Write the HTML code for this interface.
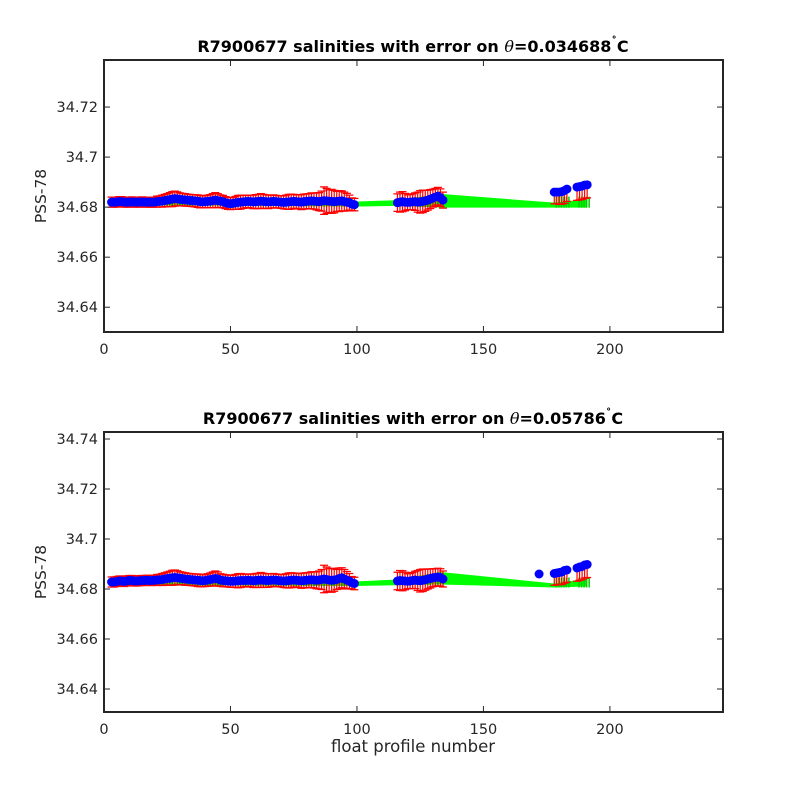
<!DOCTYPE html>
<html><head><meta charset="utf-8"><style>
body{margin:0;background:#fff}
svg{display:block;font-family:"DejaVu Sans","Liberation Sans",sans-serif}
</style></head><body>
<svg id="c" width="800" height="800"></svg>
<script>
const profiles1 = [3,4,5,6,7,8,9,10,11,12,13,14,15,16,17,18,19,20,21,22,23,24,25,26,27,28,29,30,31,32,33,34,35,36,37,38,39,40,41,42,43,44,45,46,47,48,49,50,51,52,53,54,55,56,57,58,59,60,61,62,63,64,65,66,67,68,69,70,71,72,73,74,75,76,77,78,79,80,81,82,83,84,85,86,87,88,89,90,91,92,93,94,95,96,97,98,99,116,117,118,119,120,121,122,123,124,125,126,127,128,129,130,131,132,133,134,178,179,180,181,182,183,187,188,189,190,191];
const sal1 = [34.682,34.682,34.682,34.6822,34.6822,34.682,34.682,34.682,34.6821,34.682,34.682,34.682,34.6821,34.682,34.682,34.682,34.682,34.682,
34.6822,34.6823,34.6824,34.6826,34.6828,34.683,34.6832,34.6834,34.6833,34.6831,34.683,34.6829,34.6828,34.6827,34.6826,
34.6825,34.6824,34.6822,34.6821,34.6822,34.6823,34.6824,34.6826,34.6828,34.6826,34.6824,34.6822,34.6818,34.6815,34.6814,
34.6815,34.6817,34.6819,34.682,34.6821,34.6822,34.6823,34.6822,34.6821,34.6822,34.6823,34.6824,34.6823,34.6822,34.6821,
34.6822,34.6823,34.6822,34.6821,34.682,34.6819,34.682,34.6821,34.6822,34.6823,34.6822,34.6821,34.682,34.6822,34.6823,
34.6824,34.6825,34.6824,34.6823,34.6822,34.6824,34.6826,34.6825,34.6824,34.6823,34.6822,34.6823,34.6824,34.6825,34.6822,34.682,34.6818,34.6812,34.681,
34.6818,34.682,34.6822,34.682,34.6819,34.682,34.6821,34.6822,34.682,34.6821,34.6823,34.6825,34.6828,34.6832,34.6836,34.684,34.6844,34.6838,34.6828,
34.686,34.686,34.686,34.6862,34.6866,34.6872,34.688,34.6882,34.6884,34.6888,34.6889];
const err1 = [0.002,0.002,0.002,0.002,0.002,0.002,0.002,0.002,0.002,0.002,0.002,0.002,0.002,0.002,0.002,0.002,0.002,0.002,
0.0022,0.0022,0.0024,0.0025,0.0026,0.0028,0.003,0.003,0.0028,0.0026,0.0025,0.0025,0.0024,0.0024,0.0024,
0.0024,0.0025,0.0025,0.0024,0.0024,0.0025,0.0026,0.0028,0.003,0.0028,0.0025,0.0025,0.0024,0.0024,0.0024,
0.0024,0.0026,0.0028,0.0028,0.0026,0.0025,0.0025,0.0026,0.0027,0.0028,0.0028,0.003,0.0028,0.0027,0.0027,
0.0026,0.0026,0.0025,0.0025,0.0025,0.0026,0.0028,0.003,0.003,0.0028,0.0027,0.0028,0.003,0.003,0.003,
0.003,0.0032,0.0032,0.0034,0.0036,0.004,0.0055,0.005,0.0045,0.0048,0.0045,0.004,0.0042,0.004,0.0038,0.0035,0.003,0.0025,0.0025,
0.0035,0.004,0.004,0.0035,0.003,0.003,0.0032,0.0035,0.004,0.0045,0.0045,0.0042,0.004,0.0038,0.0036,0.0035,0.0035,0.0035,0.0032,
0.0022,0.0022,0.0024,0.0025,0.0026,0.0024,0.0028,0.0028,0.0028,0.0028,0.0027];
const bandX1 = [3,50,99,116,133,178,191];
const bandLo1 = [34.6806,34.6806,34.6802,34.6805,34.6798,34.6798,34.6798];
const bandHi1 = [34.6818,34.682,34.6822,34.6828,34.6853,34.6818,34.6832];

const profiles2 = profiles1.concat([172]);
const sal2 = [34.6828,34.6828,34.683,34.6832,34.6832,34.683,34.6832,34.6834,34.6834,34.6832,34.6832,34.6833,34.6834,34.6834,34.6835,34.6834,34.6834,34.6835,
34.6836,34.6837,34.6838,34.684,34.6842,34.6843,34.6845,34.6846,34.6845,34.6843,34.6842,34.684,34.6839,34.6838,34.6837,
34.6836,34.6835,34.6834,34.6833,34.6834,34.6836,34.6838,34.684,34.6842,34.684,34.6836,34.6834,34.6833,34.6832,34.6831,
34.6831,34.6832,34.6833,34.6834,34.6834,34.6834,34.6835,34.6834,34.6833,34.6834,34.6835,34.6836,34.6835,34.6834,34.6834,
34.6835,34.6836,34.6835,34.6834,34.6833,34.6832,34.6833,34.6834,34.6835,34.6836,34.6835,34.6834,34.6833,34.6834,34.6835,
34.6836,34.6837,34.6836,34.6835,34.6836,34.6838,34.684,34.6838,34.6836,34.6835,34.6836,34.6838,34.6842,34.6845,34.684,34.6835,34.6832,34.6825,34.6822,
34.6832,34.6834,34.6833,34.6832,34.6831,34.6832,34.6834,34.6836,34.6834,34.6833,34.6835,34.6837,34.684,34.6842,34.6845,34.6846,34.6848,34.6846,34.684,
34.6862,34.6864,34.6866,34.6868,34.6874,34.6876,34.6884,34.6888,34.689,34.6896,34.6898,34.686];
const err2 = err1.concat([0]);
const bandX2 = [3,50,99,116,133,178,191];
const bandLo2 = [34.6812,34.6814,34.6812,34.6815,34.6818,34.6806,34.681];
const bandHi2 = [34.6826,34.6828,34.683,34.6838,34.6868,34.6822,34.6842];

const xTicks = [0,50,100,150,200];
const yTicks1 = [34.64,34.66,34.68,34.7,34.72];
const yLabels1 = ["34.64","34.66","34.68","34.7","34.72"];
const yTicks2 = [34.64,34.66,34.68,34.7,34.72,34.74];
const yLabels2 = ["34.64","34.66","34.68","34.7","34.72","34.74"];

const NS="http://www.w3.org/2000/svg";
const svg=document.getElementById('c');
function mk(tag,attrs,parent){const e=document.createElementNS(NS,tag);for(const k in attrs)e.setAttribute(k,attrs[k]);(parent||svg).appendChild(e);return e;}

function panel(cfg){
  const L=104,R=723,T=cfg.top,B=cfg.bottom;
  const xs=v=>L+(v-0)/(244.7-0)*(R-L);
  const ys=v=>B-(v-cfg.ymin)/(cfg.ymax-cfg.ymin)*(B-T);
  const g=mk('g',{});
  
  
  let d='';
  for(let i=0;i<cfg.bx.length;i++)d+=(i?'L':'M')+xs(cfg.bx[i])+','+ys(cfg.bhi[i]);
  for(let i=cfg.bx.length-1;i>=0;i--)d+='L'+xs(cfg.bx[i])+','+ys(cfg.blo[i]);
  const band=mk('path',{d:d+'Z',fill:'#00ff00'},g);
  
  
  for(let i=0;i<cfg.px.length;i++){
    if(cfg.px[i]<175)continue;
    const gl=mk('line',{x1:xs(cfg.px[i])+2,x2:xs(cfg.px[i])+2,y1:ys(cfg.blo[5]),y2:ys(cfg.bhi[5])-6,stroke:'#00cc00','stroke-width':1.5},g);
    
    
  }
  for(let i=0;i<cfg.px.length;i++){
    if(!cfg.e[i])continue;
    const lowExtra = cfg.px[i]>175 ? 0.0025 : 0;
    const x=xs(cfg.px[i]),y1=ys(cfg.s[i]-cfg.e[i]-lowExtra),y2=ys(cfg.s[i]+cfg.e[i]*(cfg.px[i]>175?0.3:1));
    const eb=mk('path',{d:`M${x},${y1}L${x},${y2}M${x-4},${y1}L${x+4},${y1}M${x-4},${y2}L${x+4},${y2}`,stroke:'#ff0000','stroke-width':1.2,fill:'none'},g);
    
    
  }
  for(let i=0;i<cfg.px.length;i++){
    const c=mk('circle',{cx:xs(cfg.px[i]),cy:ys(cfg.s[i]),r:4.5,fill:'#0000ff'},g);
    
    
  }
  const box=mk('rect',{x:L,y:T,width:R-L,height:B-T,fill:'none',stroke:'#262626','stroke-width':2},g);
  
  
  xTicks.forEach(v=>{
    const x=xs(v);
    mk('line',{x1:x,x2:x,y1:B,y2:B-6,stroke:'#262626','stroke-width':1},g);
    mk('line',{x1:x,x2:x,y1:T,y2:T+6,stroke:'#262626','stroke-width':1},g);
    const t=mk('text',{x:x,y:B+22,'text-anchor':'middle','font-size':14.5,fill:'#262626'},g);
    t.textContent=v;
    
    
  });
  cfg.yt.forEach((v,i)=>{
    const y=ys(v);
    mk('line',{x1:L,x2:L+6,y1:y,y2:y,stroke:'#262626','stroke-width':1},g);
    mk('line',{x1:R,x2:R-6,y1:y,y2:y,stroke:'#262626','stroke-width':1},g);
    const t=mk('text',{x:L-6,y:y+5,'text-anchor':'end','font-size':14.5,fill:'#262626'},g);
    t.textContent=cfg.yl[i];
    
    
  });
  const yl=mk('text',{x:0,y:0,transform:`translate(46,${(T+B)/2}) rotate(-90)`,'text-anchor':'middle','font-size':15.5,fill:'#262626'},g);
  yl.textContent='PSS-78';
  
  
  const tt=mk('text',{x:413,y:T-8,'text-anchor':'middle','font-size':16,'font-weight':'bold',fill:'#000'},g);
  tt.innerHTML='R7900677 salinities with error on <tspan font-style="italic" font-weight="normal" font-family="DejaVu Serif">θ</tspan>='+cfg.theta+'<tspan dy="-7" font-size="11">˚</tspan><tspan dy="7">C</tspan>';
  
  
}
panel({name:'top-panel',top:60,bottom:332,ymin:34.6301,ymax:34.7388,px:profiles1,s:sal1,e:err1,bx:bandX1,blo:bandLo1,bhi:bandHi1,yt:yTicks1,yl:yLabels1,theta:'0.034688'});
panel({name:'bottom-panel',top:432,bottom:712,ymin:34.6308,ymax:34.7428,px:profiles2,s:sal2,e:err2,bx:bandX2,blo:bandLo2,bhi:bandHi2,yt:yTicks2,yl:yLabels2,theta:'0.05786'});
const xl=mk('text',{x:413,y:752,'text-anchor':'middle','font-size':16.5,fill:'#262626'});
xl.textContent='float profile number';


</script>
</body></html>
